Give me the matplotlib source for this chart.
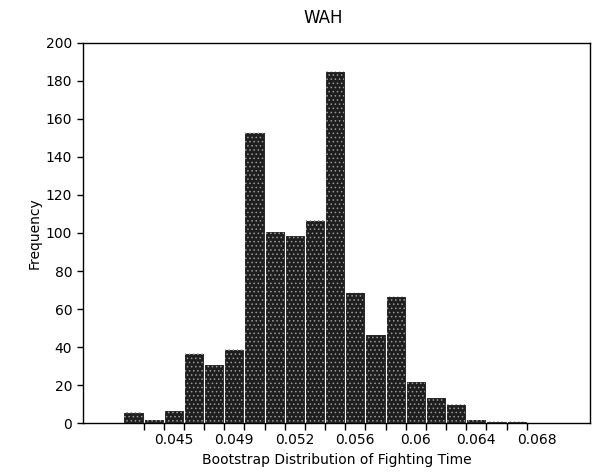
import numpy as np
from matplotlib import pyplot as plt

# bin midpoints and bootstrap counts (1000 replicates)
mids = [0.0425, 0.04375, 0.045, 0.04625, 0.0475, 0.04875, 0.05, 0.05125,
        0.0525, 0.05375, 0.055, 0.05625, 0.0575, 0.05875, 0.06, 0.06125,
        0.0625, 0.06375, 0.065, 0.06625]
counts = [6, 2, 7, 37, 31, 39, 153, 101, 99, 107, 185, 69, 47, 67, 22,
          14, 10, 2, 1, 1]

tick_pos = [0.045, 0.04875, 0.0525, 0.05625, 0.06, 0.06375, 0.0675]
tick_lab = ['0.045', '0.049', '0.052', '0.056', '0.06', '0.064', '0.068']
width = 0.00125

plt.rcParams['font.family'] = 'DejaVu Sans'
plt.rcParams['hatch.linewidth'] = 0.6
fig = plt.figure(figsize=(5.92, 4.73), dpi=100)
ax = fig.add_axes([82.7/592, 1 - 423.3/473, (590 - 82.7)/592, (423.3 - 42.7)/473])

# solid dark bars plus a speckle overlay to mimic the printed stipple
ax.bar(mids, counts, width=width, color='#1e1e1e', edgecolor='white', linewidth=0.8)
ax.bar(mids, counts, width=width * 0.9, color='none', edgecolor='#9a9a9a',
       linewidth=0, hatch='....')

ax.set_xlim(0.03935, 0.07080)
ax.set_ylim(0, 200)
ax.set_yticks(range(0, 201, 20))
ax.set_xticks(tick_pos)
ax.set_xticklabels(tick_lab)
edges = [m - width/2 for m in mids[1:]] + [mids[-1] + width/2]
ax.set_xticks(edges, minor=True)
ax.tick_params(axis='x', which='major', length=0, pad=7, labelsize=10)
ax.tick_params(axis='x', which='minor', length=5, direction='out', width=1)
ax.tick_params(axis='y', length=4, width=1, labelsize=10)

for s in ax.spines.values():
    s.set_linewidth(1)

ax.set_xlabel('Bootstrap Distribution of Fighting Time', fontsize=10, labelpad=4)
ax.set_ylabel('Frequency', fontsize=10, labelpad=3)
fig.text(323/592, 1 - 18/473, 'WAH', ha='center', va='center', fontsize=12)

fig.savefig('out.png', dpi=100)
